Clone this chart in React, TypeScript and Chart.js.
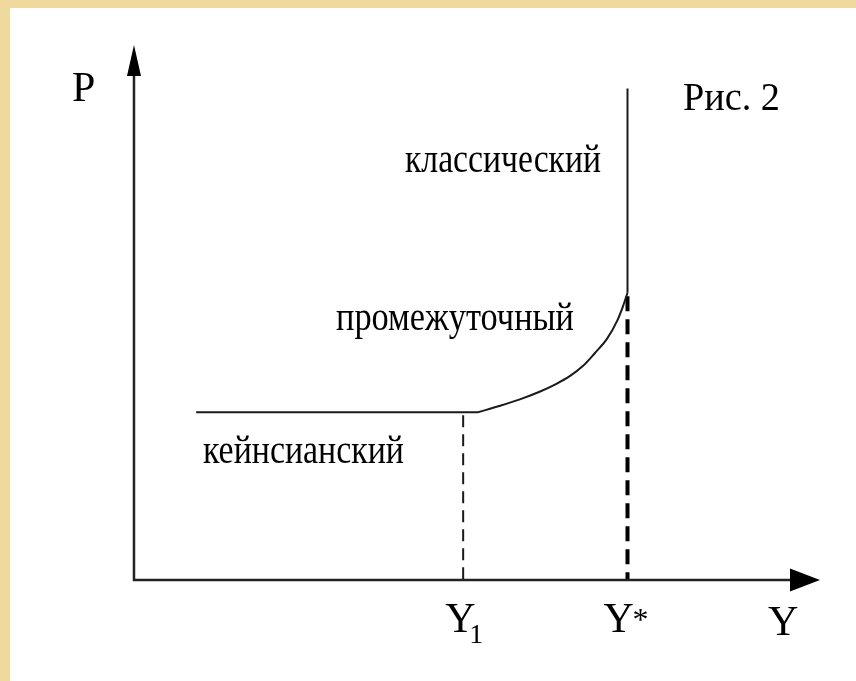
import React, { useEffect, useRef } from "react";
import { Chart, registerables } from "chart.js";

Chart.register(...registerables);

// Output (Y) and price level (P) values, in arbitrary units (Y* = 100)
const keynesY = [12.6, 69.7];
const keynesP = [34.0, 34.0];
const interY = [69.7, 74.2, 78.2, 82.3, 85.3, 88.3, 91.0, 93.4, 95.8, 97.9, 99.1, 100];
const interP = [34.0, 35.3, 36.6, 38.2, 39.6, 41.3, 43.4, 46.0, 48.8, 52.5, 55.5, 58.2];
const classY = [100, 100];
const classP = [58.2, 99.6];
const Y1 = 66.7;
const YSTAR = 100;
const y1GuideP = [33.4, 0];
const ystarGuideP = [57.5, 0];
const axisEndY = 139.0;
const axisEndP = 108.4;
const regionLabels = ["классический", "промежуточный", "кейнсианский"];
const figLabel = "Рис. 2";

const pts = (xs: number[], ys: number[]) => xs.map((x, i) => ({ x, y: ys[i] }));

export default function App() {
  const ref = useRef<HTMLCanvasElement | null>(null);
  useEffect(() => {
    document.body.style.margin = "0";
    const canvas = ref.current!;
    const overlay = {
      id: "overlay",
      afterDatasetsDraw(chart: any) {
        const ctx = chart.ctx as CanvasRenderingContext2D;
        const xs = chart.scales.x;
        const ys = chart.scales.y;
        const ox = xs.getPixelForValue(0);
        const oy = ys.getPixelForValue(0);
        const xe = xs.getPixelForValue(axisEndY);
        const ye = ys.getPixelForValue(axisEndP);
        ctx.save();
        ctx.strokeStyle = "#222";
        ctx.fillStyle = "#000";
        ctx.lineWidth = 2.5;
        ctx.beginPath();
        ctx.moveTo(ox, ye + 31);
        ctx.lineTo(ox, oy);
        ctx.lineTo(xe - 30, oy);
        ctx.stroke();
        // arrowheads
        ctx.beginPath();
        ctx.moveTo(ox, ye);
        ctx.lineTo(ox - 7, ye + 31);
        ctx.lineTo(ox + 7, ye + 31);
        ctx.closePath();
        ctx.fill();
        ctx.beginPath();
        ctx.moveTo(xe, oy);
        ctx.lineTo(xe - 30, oy - 11.5);
        ctx.lineTo(xe - 30, oy + 11.5);
        ctx.closePath();
        ctx.fill();

        ctx.textBaseline = "alphabetic";
        ctx.textAlign = "left";
        ctx.font = "42px 'Liberation Serif', serif";
        ctx.fillText("P", 72, 101);
        ctx.fillText("Y", 768, 635);
        const y1x = xs.getPixelForValue(Y1);
        const ysx = xs.getPixelForValue(YSTAR);
        ctx.fillText("Y", y1x - 18, 632);
        ctx.fillText("Y", ysx - 24, 632);
        ctx.font = "28px 'Liberation Serif', serif";
        ctx.fillText("1", y1x + 6, 643);
        ctx.font = "32px 'Liberation Serif', serif";
        ctx.fillText("*", ysx + 5, 630);
        ctx.font = "40px 'Liberation Serif', serif";
        ctx.fillText(figLabel, 683, 110, 97);
        ctx.font = "41px 'Liberation Serif', serif";
        ctx.fillText(regionLabels[0], 405, 172, 196);
        ctx.fillText(regionLabels[1], 336, 330, 238);
        ctx.fillText(regionLabels[2], 203, 463, 201);
        ctx.restore();
      },
    };
    const line = (data: any[], extra: any = {}) => ({
      data,
      showLine: true,
      pointRadius: 0,
      borderColor: "#1a1a1a",
      borderWidth: 2,
      fill: false,
      ...extra,
    });
    const chart = new Chart(canvas, {
      type: "scatter",
      data: {
        datasets: [
          line(pts(keynesY, keynesP)),
          line(pts(interY, interP), { cubicInterpolationMode: "monotone" }),
          line(pts(classY, classP)),
          line(pts([Y1, Y1], y1GuideP), { borderDash: [12, 7], borderWidth: 2 }),
          line(pts([YSTAR, YSTAR], ystarGuideP), { borderDash: [15, 8], borderWidth: 4, borderColor: "#000" }),
        ],
      },
      options: {
        animation: false,
        responsive: false,
        devicePixelRatio: 1,
        layout: { padding: 0 },
        plugins: { legend: { display: false }, tooltip: { enabled: false } },
        scales: {
          x: { type: "linear", min: -27.15, max: 146.3, display: false },
          y: { type: "linear", min: -20.47, max: 117.53, display: false },
        },
      },
      plugins: [overlay],
    });
    return () => chart.destroy();
  }, []);
  return (
    <div style={{ position: "absolute", left: 0, top: 0, width: 856, height: 681, background: "#efd99c", overflow: "hidden" }}>
      <div style={{ position: "absolute", left: 10, top: 8, right: 0, bottom: 0, background: "#fff" }} />
      <canvas ref={ref} width={856} height={681} style={{ position: "absolute", left: 0, top: 0 }} />
    </div>
  );
}
